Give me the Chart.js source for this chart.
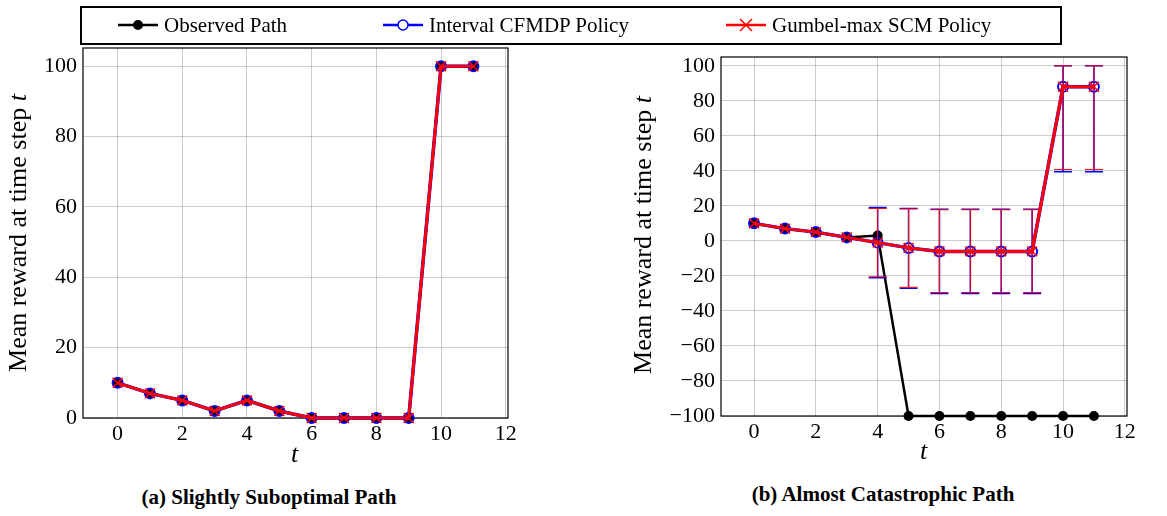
<!DOCTYPE html>
<html>
<head>
<meta charset="utf-8">
<script src="https://cdn.jsdelivr.net/npm/chart.js@4.4.1/dist/chart.umd.min.js"></script>
<style>
  body { margin: 0; background: #fff; font-family: 'Liberation Serif', serif; color: #000; }
  #page { position: relative; width: 1167px; height: 516px; overflow: hidden; }
  .wrap { position: absolute; }
  .legend { position: absolute; left: 80px; top: 6px; width: 982px; height: 39px; border: 2px solid #000; box-sizing: border-box; }
  .icon { position: absolute; top: 15px; }
  .ltext { position: absolute; top: 10px; font-size: 21px; line-height: 30px; white-space: nowrap; }
  .ytitle { position: absolute; width: 340px; text-align: center; font-size: 26px; line-height: 30px; white-space: nowrap; transform: rotate(-90deg); }
  .xtitle { position: absolute; font-size: 26px; font-style: italic; line-height: 30px; }
  .caption { position: absolute; width: 400px; text-align: center; font-size: 21px; font-weight: bold; line-height: 26px; white-space: nowrap; }
</style>
</head>
<body>
<div id="page">
  <div class="wrap" style="left:0;top:0;width:540px;height:470px;"><canvas id="chartA"></canvas></div>
  <div class="wrap" style="left:560px;top:0;width:607px;height:470px;"><canvas id="chartB"></canvas></div>

  <div class="legend"></div>
  <svg class="icon" style="left:118px" width="40" height="20"><line x1="0" y1="10" x2="40" y2="10" stroke="#000" stroke-width="2.5"/><circle cx="20" cy="10" r="5" fill="#000"/></svg>
  <div class="ltext" style="left:164px">Observed Path</div>
  <svg class="icon" style="left:383px" width="40" height="20"><line x1="0" y1="10" x2="40" y2="10" stroke="#0000ff" stroke-width="2.5"/><circle cx="20" cy="10" r="5" fill="#fff" stroke="#0000ff" stroke-width="1.5"/></svg>
  <div class="ltext" style="left:429px">Interval CFMDP Policy</div>
  <svg class="icon" style="left:726px" width="40" height="20"><line x1="0" y1="10" x2="40" y2="10" stroke="#ff0000" stroke-width="2.5"/><path d="M14 4 L26 16 M14 16 L26 4" stroke="#ff0000" stroke-width="1.5"/></svg>
  <div class="ltext" style="left:772px">Gumbel-max SCM Policy</div>

  <div class="ytitle" style="left:-152px;top:218px;">Mean reward at time step <i>t</i></div>
  <div class="ytitle" style="left:473px;top:220px;">Mean reward at time step <i>t</i></div>
  <div class="xtitle" style="left:291px;top:439px;">t</div>
  <div class="xtitle" style="left:920px;top:436px;">t</div>
  <div class="caption" style="left:69px;top:484px;">(a) Slightly Suboptimal Path</div>
  <div class="caption" style="left:683px;top:481px;">(b) Almost Catastrophic Path</div>
</div>

<script>
// pas de temps
const steps = [0, 1, 2, 3, 4, 5, 6, 7, 8, 9, 10, 11];

// (a) chemin légèrement sous-optimal
const observedA = [10, 7, 5, 2, 5, 2, 0, 0, 0, 0, 100, 100];
const cfmdpA    = [10, 7, 5, 2, 5, 2, 0, 0, 0, 0, 100, 100];
const gumbelA   = [10, 7, 5, 2, 5, 2, 0, 0, 0, 0, 100, 100];

// (b) chemin presque catastrophique
const observedB = [10, 7, 5, 2, 3, -100, -100, -100, -100, -100, -100, -100];
const cfmdpB    = [10, 7, 5, 2, -1, -4, -6, -6, -6, -6, 88, 88];
const gumbelB   = [10, 7, 5, 2, -1, -4, -6, -6, -6, -6, 88, 88];
const cfmdpLowB   = [null, null, null, null, -21, -27, -30, -30, -30, -30, 39.5, 39.5];
const cfmdpHighB  = [null, null, null, null, 19, 18.5, 18, 18, 18, 18, 100, 100];
const gumbelLowB  = [null, null, null, null, -20.5, -26.5, -29.5, -29.5, -29.5, -29.5, 40.8, 40.8];
const gumbelHighB = [null, null, null, null, 18.5, 18.3, 17.8, 17.8, 17.8, 17.8, 100, 100];

// graduations
const xTicks  = [0, 2, 4, 6, 8, 10, 12];
const yTicksA = [0, 20, 40, 60, 80, 100];
const yTicksB = [-100, -80, -60, -40, -20, 0, 20, 40, 60, 80, 100];

const FONT = "'Liberation Serif', 'Times New Roman', serif";
Chart.defaults.font.family = FONT;
Chart.defaults.font.size = 22;
Chart.defaults.color = '#000';

function pts(vals) {
    return steps.map((t, i) => ({ x: t, y: vals[i] }));
}

// cadre complet autour de la zone de tracé
const framePlugin = {
    id: 'frame',
    beforeDatasetsDraw(chart) {
        const { ctx, chartArea: a } = chart;
        ctx.save();
        ctx.strokeStyle = '#000';
        ctx.lineWidth = 1.2;
        ctx.strokeRect(a.left, a.top, a.right - a.left, a.bottom - a.top);
        ctx.restore();
    }
};

// barres d'erreur, dessinées sous la courbe de leur série
const errorBarPlugin = {
    id: 'errbars',
    beforeDatasetDraw(chart, args) {
        const ds = chart.data.datasets[args.index];
        if (!ds.errLow) return;
        const { ctx } = chart;
        const xs = chart.scales.x, ys = chart.scales.y;
        ctx.save();
        ctx.strokeStyle = ds.borderColor;
        ctx.lineWidth = ds.errWidth;
        steps.forEach((t, i) => {
            if (ds.errLow[i] == null) return;
            const px = xs.getPixelForValue(t);
            const lo = ys.getPixelForValue(ds.errLow[i]);
            const hi = ys.getPixelForValue(ds.errHigh[i]);
            ctx.beginPath();
            ctx.moveTo(px, lo); ctx.lineTo(px, hi);
            ctx.moveTo(px - 9, lo); ctx.lineTo(px + 9, lo);
            ctx.moveTo(px - 9, hi); ctx.lineTo(px + 9, hi);
            ctx.stroke();
        });
        ctx.restore();
    }
};

function makeChart(id, series, yTicks, yMin, yMax, pad, yW, xH) {
    const [obs, cf, gb, err] = series;
    const datasets = [
        { data: pts(obs), borderColor: '#000', backgroundColor: '#000', borderWidth: 2.5,
          pointStyle: 'circle', pointRadius: 5, pointBorderWidth: 0, order: 3, clip: false },
        { data: pts(cf), borderColor: '#0000ff', backgroundColor: 'rgba(0,0,0,0)', borderWidth: 3.5,
          pointStyle: 'circle', pointRadius: 5, pointBorderWidth: 2, order: 2, clip: false },
        { data: pts(gb), borderColor: '#ff0000', backgroundColor: '#ff0000', borderWidth: 3,
          pointStyle: 'crossRot', pointRadius: 7, pointBorderWidth: 1.5, order: 1, clip: false }
    ];
    if (err) {
        Object.assign(datasets[1], { errLow: err[0], errHigh: err[1], errWidth: 1.5 });
        Object.assign(datasets[2], { errLow: err[2], errHigh: err[3], errWidth: 1 });
    }
    return new Chart(document.getElementById(id), {
        type: 'line',
        data: { datasets },
        plugins: [framePlugin, errorBarPlugin],
        options: {
            responsive: true,
            maintainAspectRatio: false,
            animation: false,
            layout: { padding: pad },
            plugins: { legend: { display: false }, tooltip: { enabled: false } },
            scales: {
                x: {
                    type: 'linear', min: -1.07, max: 12.07,
                    afterBuildTicks: s => { s.ticks = xTicks.map(v => ({ value: v })); },
                    afterFit: s => { s.height = xH; },
                    grid: { color: 'rgba(0,0,0,0.2)', drawTicks: false },
                    border: { display: false },
                    ticks: { color: '#000', padding: 3, font: { family: FONT, size: 22 } }
                },
                y: {
                    type: 'linear', min: yMin, max: yMax,
                    afterBuildTicks: s => { s.ticks = yTicks.map(v => ({ value: v })); },
                    afterFit: s => { s.width = yW; },
                    grid: { color: 'rgba(0,0,0,0.2)', drawTicks: false },
                    border: { display: false },
                    ticks: { color: '#000', padding: 6, font: { family: FONT, size: 22 },
                             callback: v => String(v).replace('-', '\u2212') }
                }
            }
        }
    });
}

makeChart('chartA', [observedA, cfmdpA, gumbelA], yTicksA, 0, 105.2,
          { left: 33, right: 32, top: 48, bottom: 0 }, 50, 52);
makeChart('chartB', [observedB, cfmdpB, gumbelB, [cfmdpLowB, cfmdpHighB, gumbelLowB, gumbelHighB]],
          yTicksB, -100, 105, { left: 91, right: 40, top: 57, bottom: 0 }, 70, 54);
</script>
</body>
</html>
